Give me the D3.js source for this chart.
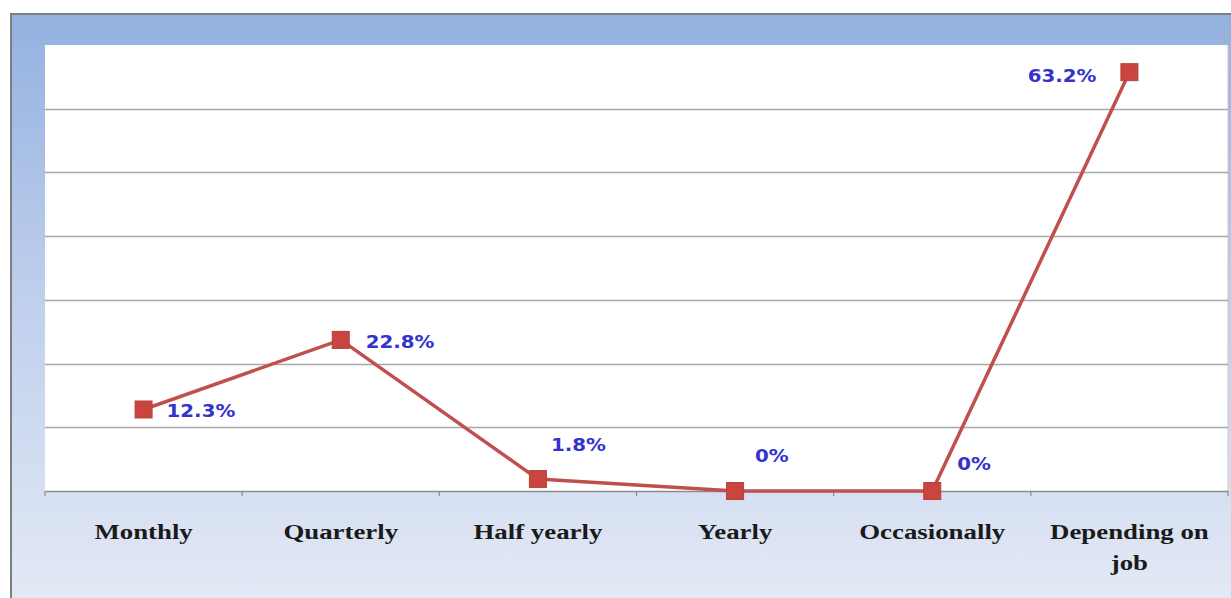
<!DOCTYPE html>
<html>
<head>
<meta charset="utf-8">
<script src="https://cdn.jsdelivr.net/npm/d3@7"></script>
<style>
  html, body { margin: 0; padding: 0; background: #ffffff; }
  svg { display: block; }
</style>
</head>
<body>
<svg id="chart" width="1231" height="598"></svg>
<script>
// ---- data ----
const categories = ["Monthly", "Quarterly", "Half yearly", "Yearly", "Occasionally", "Depending on job"];
const categoryLines = [["Monthly"], ["Quarterly"], ["Half yearly"], ["Yearly"], ["Occasionally"], ["Depending on", "job"]];
const values = [12.3, 22.8, 1.8, 0, 0, 63.2];
const valueLabels = ["12.3%", "22.8%", "1.8%", "0%", "0%", "63.2%"];
const gridCount = 7;
const yMax = 67.3;

// ---- layout (label nudges relative to marker) ----
const labelOffsets = [[23, 1, "start"], [25, 1, "start"], [13, -35, "start"], [20, -36, "start"], [25, -28, "start"], [-33, 3, "end"]];

const svg = d3.select("#chart");
const W = 1231, H = 598;
const plot = { left: 45, top: 45, right: 1228, bottom: 491 };

const defs = svg.append("defs");
const grad = defs.append("linearGradient").attr("id", "bg").attr("x1", 0).attr("y1", 0).attr("x2", 0).attr("y2", 1);
grad.append("stop").attr("offset", "0%").attr("stop-color", "#93b1df");
grad.append("stop").attr("offset", "45%").attr("stop-color", "#bccdec");
grad.append("stop").attr("offset", "100%").attr("stop-color", "#e3e9f5");

// outer frame
svg.append("rect").attr("x", 11).attr("y", 14).attr("width", W - 11).attr("height", H - 14).attr("fill", "url(#bg)");
svg.append("path").attr("d", `M11,${H} L11,14 L${W},14`).attr("fill", "none").attr("stroke", "#7f7f7f").attr("stroke-width", 2);

// plot area
svg.append("rect").attr("x", plot.left).attr("y", plot.top)
  .attr("width", plot.right - plot.left).attr("height", plot.bottom - plot.top).attr("fill", "#ffffff");
svg.append("line").attr("x1", plot.right).attr("x2", plot.right).attr("y1", plot.top).attr("y2", plot.bottom)
  .attr("stroke", "#c8c8c8").attr("stroke-width", 1);

const x = d3.scaleBand().domain(categories).range([plot.left, plot.right]).padding(0);
const y = d3.scaleLinear().domain([0, yMax]).range([plot.bottom, plot.top]);

// gridlines
const gridVals = d3.range(1, gridCount).map(i => yMax * i / gridCount);
svg.append("g").selectAll("line").data(gridVals).join("line")
  .attr("x1", plot.left).attr("x2", plot.right)
  .attr("y1", d => Math.round(y(d)) + 0.5).attr("y2", d => Math.round(y(d)) + 0.5)
  .attr("stroke", "#a9a9a9").attr("stroke-width", 1.5);

// x axis
const xAxis = svg.append("g").attr("transform", `translate(0,${plot.bottom})`)
  .call(d3.axisBottom(x).tickSize(0).tickFormat(""));
xAxis.select(".domain").attr("stroke", "#8c8c8c").attr("stroke-width", 1.5);
const bounds = categories.map(c => x(c)).concat([plot.right]);
xAxis.append("g").selectAll("line").data(bounds).join("line")
  .attr("x1", d => d).attr("x2", d => d).attr("y1", 0).attr("y2", 5)
  .attr("stroke", "#8c8c8c").attr("stroke-width", 1.2);

// category labels
const sxCat = 1.22;
const catG = svg.append("g");
categoryLines.forEach((lines, i) => {
  const cx = x(categories[i]) + x.bandwidth() / 2;
  lines.forEach((ln, j) => {
    catG.append("text")
      .attr("transform", `translate(${cx},${539 + j * 31}) scale(${sxCat},1)`)
      .attr("text-anchor", "middle")
      .attr("font-family", "'Liberation Serif', 'Times New Roman', serif")
      .attr("font-weight", "bold")
      .attr("font-size", 22)
      .attr("fill", "#1a1a1a")
      .text(ln);
  });
});

// line
const pts = values.map((v, i) => [x(categories[i]) + x.bandwidth() / 2, y(v)]);
svg.append("path")
  .attr("d", d3.line()(pts))
  .attr("fill", "none").attr("stroke", "#c0504d").attr("stroke-width", 3.5)
  .attr("stroke-linejoin", "round");

// markers
const ms = 17;
svg.append("g").selectAll("rect").data(values).join("rect")
  .attr("x", (d, i) => x(categories[i]) + x.bandwidth() / 2 - ms / 2)
  .attr("y", d => y(d) - ms / 2)
  .attr("width", ms).attr("height", ms)
  .attr("fill", "#c8463f").attr("stroke", "#b8403b").attr("stroke-width", 1);

// value labels
const sxVal = 1.1;
svg.append("g").selectAll("text").data(values).join("text")
  .attr("transform", (d, i) => {
    const px = x(categories[i]) + x.bandwidth() / 2 + labelOffsets[i][0];
    const py = y(d) + labelOffsets[i][1] + 7;
    return `translate(${px},${py}) scale(${sxVal},1)`;
  })
  .attr("text-anchor", (d, i) => labelOffsets[i][2])
  .attr("font-family", "'DejaVu Sans', Verdana, sans-serif")
  .attr("font-weight", "bold")
  .attr("font-size", 18)
  .attr("fill", "#3333cc")
  .text((d, i) => valueLabels[i]);
</script>
</body>
</html>
